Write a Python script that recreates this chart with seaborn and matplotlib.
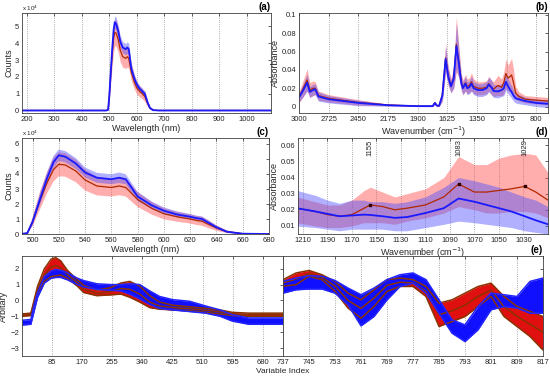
import matplotlib
matplotlib.use("Agg")
import matplotlib.pyplot as plt
import seaborn as sns

sns.set_theme(style="white")
plt.rcParams['font.family'] = ['Liberation Sans', 'DejaVu Sans']

# ---- (a)/(c) fluorescence spectra: mean and std per group ----
wl = [180, 490, 496, 500, 506, 511, 516, 520, 525, 533, 540, 549, 560, 566, 571,
      580, 591, 600, 610, 620, 625, 629, 635, 640, 648, 660, 680, 1090]
blue_wl = [0, 0, 0.05, 0.8, 2.4, 3.7, 4.8, 5.25, 5.15, 4.7, 4.1, 3.75, 3.65, 3.75, 3.65,
           2.5, 1.9, 1.55, 1.3, 1.15, 1.05, 1.0, 0.7, 0.45, 0.15, 0.02, 0, 0]
red_wl = [0, 0, 0.05, 0.8, 2.3, 3.4, 4.3, 4.65, 4.6, 4.2, 3.6, 3.2, 3.1, 3.2, 3.1,
          2.3, 1.7, 1.35, 1.15, 1.0, 0.9, 0.85, 0.6, 0.4, 0.15, 0.02, 0, 0]
blue_wl_sd = [0, 0, 0.05, 0.2, 0.4, 0.4, 0.4, 0.38, 0.38, 0.36, 0.33, 0.33, 0.33, 0.35, 0.33,
              0.3, 0.25, 0.22, 0.2, 0.18, 0.17, 0.17, 0.15, 0.12, 0.07, 0.02, 0, 0]
red_wl_sd = [0, 0, 0.05, 0.3, 0.6, 0.7, 0.8, 0.8, 0.78, 0.75, 0.7, 0.63, 0.6, 0.62, 0.6,
             0.5, 0.42, 0.37, 0.33, 0.3, 0.3, 0.3, 0.25, 0.18, 0.09, 0.02, 0, 0]

# ---- (b) FTIR spectra ----
wn_b = [3000, 2960, 2925, 2900, 2870, 2850, 2820, 2725, 2450, 2175,
        1900, 1760, 1740, 1720, 1700, 1670, 1640, 1615, 1590, 1565,
        1540, 1515, 1495, 1480, 1455, 1440, 1420, 1400, 1380, 1340,
        1300, 1260, 1240, 1215, 1195, 1155, 1120, 1100, 1081, 1060,
        1040, 1028, 1010, 990, 960, 900, 800, 690]
blue_b = [0.010, 0.018, 0.026, 0.016, 0.018, 0.019, 0.011, 0.008, 0.004, 0.0015,
          0.0005, 0.0005, 0.004, 0.001, 0.001, 0.012, 0.052, 0.032, 0.022, 0.03,
          0.066, 0.045, 0.026, 0.02, 0.025, 0.02, 0.021, 0.025, 0.02, 0.018,
          0.018, 0.02, 0.024, 0.021, 0.017, 0.0165, 0.018, 0.02, 0.027, 0.022,
          0.018, 0.016, 0.012, 0.009, 0.008, 0.006, 0.004, 0.003]
red_b = [0.010, 0.02, 0.029, 0.018, 0.02, 0.02, 0.012, 0.009, 0.0045, 0.0018,
         0.0005, 0.0005, 0.004, 0.001, 0.001, 0.013, 0.053, 0.033, 0.023, 0.031,
         0.068, 0.047, 0.027, 0.021, 0.026, 0.022, 0.023, 0.027, 0.022, 0.02,
         0.02, 0.021, 0.025, 0.021, 0.019, 0.023, 0.021, 0.026, 0.036, 0.031,
         0.033, 0.0345, 0.026, 0.015, 0.011, 0.008, 0.007, 0.006]
blue_b_sd = [0.005, 0.007, 0.009, 0.006, 0.006, 0.006, 0.005, 0.004, 0.003, 0.001,
             0.0005, 0.0005, 0.002, 0.001, 0.001, 0.006, 0.014, 0.009, 0.007, 0.01,
             0.025, 0.015, 0.008, 0.007, 0.008, 0.007, 0.007, 0.008, 0.007, 0.007,
             0.007, 0.007, 0.008, 0.008, 0.007, 0.007, 0.007, 0.008, 0.009, 0.008,
             0.007, 0.007, 0.006, 0.005, 0.005, 0.004, 0.004, 0.004]
red_b_sd = [0.006, 0.009, 0.012, 0.008, 0.008, 0.007, 0.005, 0.004, 0.003, 0.001,
            0.0005, 0.0005, 0.002, 0.001, 0.001, 0.007, 0.015, 0.01, 0.008, 0.011,
            0.03, 0.016, 0.009, 0.008, 0.009, 0.008, 0.008, 0.01, 0.008, 0.007,
            0.007, 0.007, 0.008, 0.008, 0.008, 0.011, 0.009, 0.012, 0.016, 0.014,
            0.017, 0.018, 0.015, 0.007, 0.005, 0.004, 0.004, 0.004]

# ---- (d) fingerprint region zoom ----
wn_d = [1215, 1200, 1190, 1180, 1170, 1160, 1155, 1145, 1135, 1125,
        1110, 1095, 1083, 1070, 1060, 1050, 1040, 1029, 1020, 1010]
red_d = [0.021, 0.019, 0.017, 0.016, 0.017, 0.021, 0.023, 0.022, 0.020, 0.021,
         0.023, 0.028, 0.036, 0.031, 0.031, 0.032, 0.033, 0.0345, 0.031, 0.026]
red_d_lo = [0.012, 0.010, 0.009, 0.009, 0.010, 0.012, 0.012, 0.012, 0.011, 0.013,
            0.015, 0.018, 0.022, 0.020, 0.018, 0.018, 0.019, 0.019, 0.018, 0.015]
red_d_hi = [0.028, 0.025, 0.023, 0.023, 0.026, 0.032, 0.034, 0.031, 0.028, 0.030,
            0.033, 0.040, 0.053, 0.048, 0.048, 0.052, 0.054, 0.055, 0.054, 0.043]
blue_d = [0.021, 0.019, 0.0175, 0.016, 0.0165, 0.017, 0.0168, 0.016, 0.015, 0.0155,
          0.018, 0.021, 0.027, 0.025, 0.023, 0.021, 0.019, 0.016, 0.0135, 0.011]
blue_d_lo = [0.010, 0.009, 0.008, 0.007, 0.008, 0.008, 0.008, 0.008, 0.007, 0.007,
             0.009, 0.011, 0.013, 0.012, 0.011, 0.010, 0.009, 0.007, 0.006, 0.005]
blue_d_hi = [0.032, 0.029, 0.026, 0.024, 0.026, 0.026, 0.025, 0.025, 0.024, 0.025,
             0.028, 0.034, 0.040, 0.038, 0.036, 0.034, 0.031, 0.028, 0.026, 0.022]
peaks_d = [1155, 1083, 1029]
peak_vals_d = [0.023, 0.036, 0.0345]

# ---- (e) preprocessed spectra, envelope (and one inner line) of each group ----
xe = [1, 26, 36, 45, 64, 83, 96, 110, 129, 157, 175, 212, 250,
      280, 305, 333, 361, 389, 426, 473, 519, 560, 594, 640, 690, 737]
red_hi_e = [-0.85, -0.8, 0.1, 0.9, 2.0, 2.6, 2.7, 2.5, 1.9, 1.3, 0.95, 0.65, 0.8,
            1.1, 1.2, 0.9, 0.3, -0.1, -0.3, -0.4, -0.5, -0.6, -0.75, -0.8, -0.8, -0.8]
red_mid_e = [-0.92, -0.88, -0.05, 0.7, 1.6, 2.1, 2.2, 2.05, 1.65, 1.1, 0.7, 0.45, 0.55,
             0.75, 0.7, 0.4, -0.1, -0.35, -0.45, -0.52, -0.62, -0.72, -0.85, -0.9, -0.9, -0.9]
red_lo_e = [-1.0, -0.95, -0.2, 0.5, 1.2, 1.5, 1.55, 1.6, 1.4, 0.9, 0.5, 0.3, 0.35,
            0.4, 0.2, -0.1, -0.45, -0.55, -0.6, -0.65, -0.75, -0.85, -0.95, -1.0, -1.0, -1.0]
blue_hi_e = [-1.25, -1.2, -0.2, 0.5, 1.5, 1.85, 1.95, 1.9, 1.75, 1.4, 1.25, 1.05, 1.0,
             1.0, 1.05, 1.0, 0.6, 0.25, 0.05, -0.05, -0.35, -0.6, -0.9, -1.1, -1.1, -1.1]
blue_lo_e = [-1.55, -1.5, -0.6, 0.2, 1.1, 1.4, 1.45, 1.45, 1.3, 1.0, 0.85, 0.7, 0.65,
             0.6, 0.4, 0.1, -0.25, -0.5, -0.6, -0.7, -0.8, -1.0, -1.3, -1.5, -1.5, -1.5]

xr = [737, 741, 745, 749, 753, 757, 761, 765, 769, 773, 777,
      781, 785, 789, 793, 797, 801, 805, 809, 813, 817]
blue_hi_r = [1.20, 1.41, 1.56, 1.52, 1.26, 0.78, 0.36, 0.78, 1.31, 1.62, 1.73,
             1.31, 0.04, -1.22, -1.54, -0.38, 0.46, 0.36, 0.25, 1.20, 1.41]
blue_lo_r = [0.46, 0.67, 0.72, 0.72, 0.46, -0.27, -1.6, -1.01, 0.04, 0.88, 1.09,
             0.46, -0.80, -2.06, -2.59, -1.85, -0.59, -0.38, -0.48, -0.80, -0.80]
red_hi_r = [1.31, 1.73, 1.89, 1.62, 1.20, 0.46, 0.04, 0.67, 1.31, 1.41, 1.31,
            0.88, -0.17, 0.04, 0.46, 0.88, 1.09, 0.25, -0.38, -0.69, -1.01]
red_mid_r = [1.1, 1.35, 1.7, 1.45, 0.9, 0.0, -0.5, 0.15, 0.95, 1.15, 1.1,
             0.55, -0.9, -0.65, -0.3, 0.25, 0.65, -0.4, -1.0, -1.5, -2.0]
red_lo_r = [0.9, 0.99, 1.52, 1.31, 0.57, -0.48, -1.12, -0.38, 0.57, 0.88, 0.88,
            0.25, -1.64, -1.33, -1.01, -0.38, 0.25, -1.01, -1.64, -2.27, -3.12]

RED_LINE = "#b02800"
BLUE_LINE = "#1a1aff"
RED_FILL = "#ff4a4a"
BLUE_FILL = "#5050ff"
BROWN = "#8a3200"
TXT = "#262626"


def box(l, t, r, b):
    return [l / 550, 1 - b / 379, (r - l) / 550, (b - t) / 379]


def style(ax, xticks, yticks, fmt=None):
    ax.set_xticks(xticks)
    ax.set_yticks(yticks)
    if fmt:
        ax.set_yticklabels([fmt(v) for v in yticks])
    ax.tick_params(direction="in", length=2, width=0.5, labelsize=5.5,
                   colors=TXT, pad=2, top=True, right=True)
    for s in ax.spines.values():
        s.set_color("#404040")
        s.set_linewidth(0.6)
    ax.grid(axis="x", linestyle=":", color="#909090", linewidth=0.6)
    ax.set_axisbelow(True)


def band(ax, x, mean, lo, hi, fill, line, lw):
    ax.fill_between(x, lo, hi, color=fill, alpha=0.45, linewidth=0)
    sns.lineplot(x=x, y=mean, ax=ax, color=line, linewidth=lw)


def sd_band(ax, x, mean, sd, fill, line, lw):
    lo = [m - s for m, s in zip(mean, sd)]
    hi = [m + s for m, s in zip(mean, sd)]
    band(ax, x, mean, lo, hi, fill, line, lw)


def bundle(ax, x, red_lo, red_mid, red_hi, blue_lo, blue_hi):
    ax.fill_between(x, red_lo, red_hi, color="#e01010", linewidth=0)
    for y in (red_hi, red_mid, red_lo):
        sns.lineplot(x=x, y=y, ax=ax, color=BROWN, linewidth=1.1)
    ax.fill_between(x, blue_lo, blue_hi, color="#1010ff", linewidth=0)
    for y in (blue_hi, blue_lo):
        sns.lineplot(x=x, y=y, ax=ax, color="#2424ff", linewidth=1.1)


def panel_label(ax, s):
    ax.text(1.0, 1.01, s, transform=ax.transAxes, ha="right", va="bottom",
            fontsize=7, fontweight="bold", color="black")


def label(ax, xl, yl):
    ax.set_xlabel(xl, fontsize=6.5, labelpad=1, color=TXT)
    ax.set_ylabel(yl, fontsize=6.5, labelpad=1, color=TXT)


fig = plt.figure(figsize=(5.5, 3.79), dpi=100)

# (a)
ax = fig.add_axes(box(22, 13, 271, 113))
sd_band(ax, wl, red_wl, red_wl_sd, RED_FILL, RED_LINE, 0.9)
sd_band(ax, wl, blue_wl, blue_wl_sd, BLUE_FILL, BLUE_LINE, 1.3)
ax.set_xlim(183, 1088)
ax.set_ylim(-0.15, 5.8)
style(ax, range(200, 1001, 100), range(0, 6))
label(ax, "Wavelength (nm)", "Counts")
ax.text(0.0, 1.005, "x 10$^4$", transform=ax.transAxes, fontsize=4.5, va="bottom", color=TXT)
panel_label(ax, "(a)")

# (b)
ax = fig.add_axes(box(299, 13, 548, 113))
sd_band(ax, wn_b, red_b, red_b_sd, RED_FILL, RED_LINE, 0.9)
sd_band(ax, wn_b, blue_b, blue_b_sd, BLUE_FILL, BLUE_LINE, 1.3)
ax.set_xlim(3000, 690)
ax.set_ylim(-0.007, 0.102)
style(ax, range(3000, 799, -275), [0, 0.02, 0.04, 0.06, 0.08, 0.1], fmt=lambda v: f"{v:g}")
label(ax, "Wavenumber (cm$^{-1}$)", "Absorbance")
panel_label(ax, "(b)")

# (c)
ax = fig.add_axes(box(22, 138, 269, 234))
sd_band(ax, wl, red_wl, red_wl_sd, RED_FILL, RED_LINE, 0.9)
sd_band(ax, wl, blue_wl, blue_wl_sd, BLUE_FILL, BLUE_LINE, 1.3)
ax.set_xlim(492, 680)
ax.set_ylim(0, 6.4)
style(ax, range(500, 681, 20), range(0, 7))
label(ax, "Wavelength (nm)", "Counts")
ax.text(0.0, 1.005, "x 10$^4$", transform=ax.transAxes, fontsize=4.5, va="bottom", color=TXT)
panel_label(ax, "(c)")

# (d)
ax = fig.add_axes(box(298, 138, 548, 234))
band(ax, wn_d, red_d, red_d_lo, red_d_hi, RED_FILL, RED_LINE, 0.9)
band(ax, wn_d, blue_d, blue_d_lo, blue_d_hi, BLUE_FILL, BLUE_LINE, 1.3)
ax.scatter(peaks_d, peak_vals_d, marker="s", s=3, color="#300000", zorder=5)
for p in peaks_d:
    ax.text(p, 0.0638, str(p), rotation=90, ha="center", va="top", fontsize=5.5, color=TXT)
ax.set_xlim(1214, 1010)
ax.set_ylim(0.005, 0.0645)
style(ax, range(1210, 1029, -20), [0.01, 0.02, 0.03, 0.04, 0.05, 0.06], fmt=lambda v: f"{v:g}")
label(ax, "Wavenumber (cm$^{-1}$)", "Absorbance")
panel_label(ax, "(d)")

# (e) left
ax = fig.add_axes(box(22, 256, 283, 356))
bundle(ax, xe, red_lo_e, red_mid_e, red_hi_e, blue_lo_e, blue_hi_e)
ax.set_xlim(1, 737)
ax.set_ylim(-3.5, 2.8)
style(ax, range(85, 681, 85), range(-3, 3))
ax.set_ylabel("Arbitary", fontsize=6.5, labelpad=2, color=TXT)
ax.text(1.0, -0.12, "Variable Index", transform=ax.transAxes, ha="center",
        va="top", fontsize=6, color=TXT)

# (e) right
ax = fig.add_axes(box(283, 256, 543, 356))
bundle(ax, xr, red_lo_r, red_mid_r, red_hi_r, blue_lo_r, blue_hi_r)
ax.set_xlim(737, 817)
ax.set_ylim(-3.5, 2.8)
style(ax, range(737, 818, 8), range(-3, 3))
ax.set_yticklabels([])
ax.set_ylabel("")
panel_label(ax, "(e)")

fig.savefig("out.png", dpi=100)
